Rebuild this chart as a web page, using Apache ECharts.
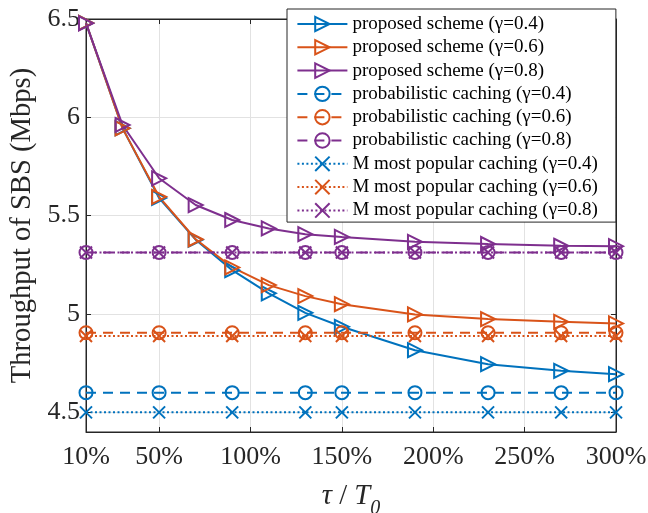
<!DOCTYPE html>
<html>
<head>
<meta charset="utf-8">
<script src="https://cdn.jsdelivr.net/npm/echarts@6/dist/echarts.min.js"></script>
<style>
html,body{margin:0;padding:0;background:#fff;}
#chart{width:648px;height:513px;}
</style>
</head>
<body>
<div id="chart"></div>
<script>
// x positions (tau / T0, in %)
const xProposed = [10, 30, 50, 70, 90, 110, 130, 150, 190, 230, 270, 300];
const xBaseline = [10, 50, 90, 130, 150, 190, 230, 270, 300];
const xTickValues = [10, 50, 100, 150, 200, 250, 300];
const yTickValues = [4.5, 5, 5.5, 6, 6.5];

// throughput (Mbps)
const proposed04 = [6.48, 5.945, 5.59, 5.378, 5.223, 5.105, 5.006, 4.935, 4.816, 4.745, 4.711, 4.694];
const proposed06 = [6.48, 5.944, 5.596, 5.38, 5.237, 5.147, 5.091, 5.05, 4.998, 4.974, 4.96, 4.952];
const proposed08 = [6.478, 5.961, 5.69, 5.554, 5.478, 5.435, 5.406, 5.392, 5.367, 5.356, 5.347, 5.345];
const prob04 = [4.6, 4.6, 4.6, 4.6, 4.6, 4.6, 4.6, 4.6, 4.6];
const prob06 = [4.905, 4.905, 4.905, 4.905, 4.905, 4.905, 4.905, 4.905, 4.905];
const prob08 = [5.313, 5.313, 5.313, 5.313, 5.313, 5.313, 5.313, 5.313, 5.313];
const mpop04 = [4.5, 4.5, 4.5, 4.5, 4.5, 4.5, 4.5, 4.5, 4.5];
const mpop06 = [4.888, 4.888, 4.888, 4.888, 4.888, 4.888, 4.888, 4.888, 4.888];
const mpop08 = [5.313, 5.313, 5.313, 5.313, 5.313, 5.313, 5.313, 5.313, 5.313];

const names = [
  'proposed scheme (γ=0.4)', 'proposed scheme (γ=0.6)', 'proposed scheme (γ=0.8)',
  'probabilistic caching (γ=0.4)', 'probabilistic caching (γ=0.6)', 'probabilistic caching (γ=0.8)',
  'M most popular caching (γ=0.4)', 'M most popular caching (γ=0.6)', 'M most popular caching (γ=0.8)'
];

const C = ['#0072BD', '#D95319', '#7E2F8E'];
const TRI = 'path://M0,0L20,10L0,20Z';
const XSYM = 'path://M0,0L10,10M10,0L0,10';
const FONT = 'Liberation Serif';
const AX = '#262626';

function zip(xs, ys) { return xs.map((x, i) => [x, ys[i]]); }

function mk(name, xs, ys, color, symbol, size, type) {
  return {
    name: name,
    type: 'line',
    data: zip(xs, ys),
    symbol: symbol,
    symbolSize: size,
    showAllSymbol: true,
    lineStyle: { color: color, width: 2, type: type },
    itemStyle: { color: 'rgba(0,0,0,0)', borderColor: color, borderWidth: 2 },
    emphasis: { disabled: true },
    animation: false
  };
}

const DASH = [10, 7];
const DOT = [2, 2.5];

const series = [
  mk(names[0], xProposed, proposed04, C[0], TRI, 14, 'solid'),
  mk(names[1], xProposed, proposed06, C[1], TRI, 14, 'solid'),
  mk(names[2], xProposed, proposed08, C[2], TRI, 14, 'solid'),
  mk(names[3], xBaseline, prob04, C[0], 'circle', 13, DASH),
  mk(names[4], xBaseline, prob06, C[1], 'circle', 13, DASH),
  mk(names[5], xBaseline, prob08, C[2], 'circle', 13, DASH),
  mk(names[6], xBaseline, mpop04, C[0], XSYM, 12, DOT),
  mk(names[7], xBaseline, mpop06, C[1], XSYM, 12, DOT),
  mk(names[8], xBaseline, mpop08, C[2], XSYM, 12, DOT)
];

const chart = echarts.init(document.getElementById('chart'), null, { renderer: 'canvas' });
chart.setOption({
  animation: false,
  backgroundColor: '#fff',
  grid: {
    left: 86, right: 32, top: 19, bottom: 81,
    containLabel: false, outerBoundsMode: 'none',
    show: true, borderColor: AX, borderWidth: 1, backgroundColor: 'transparent'
  },
  legend: {
    orient: 'vertical',
    left: 287, top: 9,
    data: names,
    itemWidth: 50, itemHeight: 18, itemGap: 4.3,
    padding: [5.5, 18, 2.2, 9.4],
    backgroundColor: '#fff',
    borderColor: AX, borderWidth: 1,
    textStyle: { fontFamily: FONT, fontSize: 19, color: '#000', lineHeight: 19 },
    selectedMode: false
  },
  xAxis: [{
    type: 'value', min: 10, max: 300,
    name: '{i|τ} / {i|T}{s|0}',
    nameLocation: 'middle', nameGap: 39,
    nameTextStyle: {
      fontFamily: FONT, fontSize: 28.6, color: AX, lineHeight: 44,
      rich: {
        i: { fontFamily: FONT, fontStyle: 'italic', fontSize: 28.6, color: AX },
        s: { fontFamily: FONT, fontStyle: 'italic', fontSize: 20, color: AX, verticalAlign: 'bottom', lineHeight: 44 }
      }
    },
    axisLine: { show: true, lineStyle: { color: AX, width: 1 } },
    axisTick: { show: true, inside: true, length: 5, customValues: xTickValues, lineStyle: { color: AX } },
    axisLabel: { customValues: xTickValues, formatter: v => v + '%', fontFamily: FONT, fontSize: 26, color: AX, margin: 12 },
    splitLine: { show: true, lineStyle: { color: '#e2e2e2', width: 1 } }
  }, {
    type: 'value', min: 10, max: 300, position: 'top',
    axisLine: { show: true, lineStyle: { color: AX } },
    axisTick: { show: true, inside: true, length: 5, customValues: xTickValues, lineStyle: { color: AX } },
    axisLabel: { show: false },
    splitLine: { show: false }
  }],
  yAxis: [{
    type: 'value', min: 4.4, max: 6.5,
    name: 'Throughput of SBS (Mbps)',
    nameLocation: 'middle', nameGap: 44, nameRotate: 90,
    nameTextStyle: { fontFamily: FONT, fontSize: 28.6, color: AX },
    axisLine: { show: true, lineStyle: { color: AX, width: 1 } },
    axisTick: { show: true, inside: true, length: 5, customValues: yTickValues, lineStyle: { color: AX } },
    axisLabel: { customValues: yTickValues, fontFamily: FONT, fontSize: 26, color: AX, margin: 6 },
    splitLine: { show: true, lineStyle: { color: '#e2e2e2', width: 1 } }
  }, {
    type: 'value', min: 4.4, max: 6.5, position: 'right',
    axisLine: { show: true, lineStyle: { color: AX } },
    axisTick: { show: true, inside: true, length: 5, customValues: yTickValues, lineStyle: { color: AX } },
    axisLabel: { show: false },
    splitLine: { show: false }
  }],
  series: series
});
</script>
</body>
</html>
